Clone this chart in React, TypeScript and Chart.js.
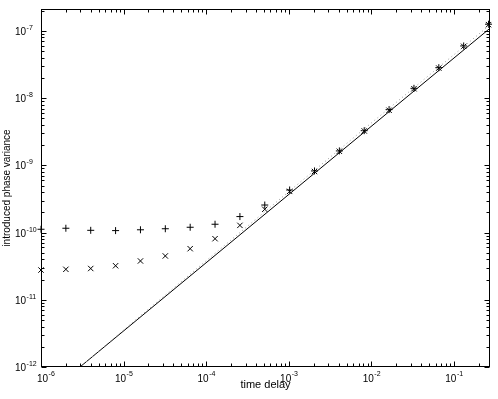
import React, { useEffect, useRef } from 'react';
import { Chart, registerables } from 'chart.js';

Chart.register(...registerables);

// time delays (x) of the measured points
const delays = [1e-6, 2e-6, 4e-6, 8e-6, 1.6e-5, 3.2e-5, 6.4e-5, 1.28e-4, 2.56e-4, 5.12e-4, 1.024e-3, 2.048e-3, 4.096e-3, 8.192e-3, 1.6384e-2, 3.2768e-2, 6.5536e-2, 1.31072e-1, 2.62144e-1];
// "+" series
const plusVar = [1.12e-10, 1.16e-10, 1.08e-10, 1.07e-10, 1.1e-10, 1.14e-10, 1.2e-10, 1.33e-10, 1.73e-10, 2.57e-10, 4.3e-10, 8.26e-10, 1.64e-9, 3.28e-9, 6.75e-9, 1.4e-8, 2.84e-8, 5.98e-8, 1.26e-7];
// "x" series
const crossVar = [2.77e-11, 2.84e-11, 2.92e-11, 3.21e-11, 3.78e-11, 4.49e-11, 5.76e-11, 8.11e-11, 1.28e-10, 2.22e-10, 4.1e-10, 8.1e-10, 1.62e-9, 3.25e-9, 6.6e-9, 1.38e-8, 2.8e-8, 5.9e-8, 1.24e-7];
// solid reference line
const solidX = [2.96e-6, 0.273];
const solidY = [1e-12, 1.096e-7];
// dotted reference line
const dottedX = [2.96e-6, 1e-5, 1e-4, 1e-3, 1e-2, 0.273];
const dottedY = [1e-12, 3.55e-12, 3.81e-11, 4.06e-10, 4.28e-9, 1.23e-7];

const xTickValues = [1e-6, 1e-5, 1e-4, 1e-3, 1e-2, 1e-1];
const xTickExps = ['-6', '-5', '-4', '-3', '-2', '-1'];
const yTickValues = [1e-12, 1e-11, 1e-10, 1e-9, 1e-8, 1e-7];
const yTickExps = ['-12', '-11', '-10', '-9', '-8', '-7'];

const X_MIN = 1e-6;
const X_MAX = 0.273;
const Y_MIN = 1e-12;
const Y_MAX = 2.12e-7;

const FONT = '"Liberation Sans", Arial, Helvetica, sans-serif';

const framePlugin = {
  id: 'matlabFrame',
  afterDatasetsDraw(chart: any) {
    const { ctx, chartArea: a, scales } = chart;
    const L = Math.round(a.left) + 0.5;
    const R = Math.round(a.right) - 0.5;
    const T = Math.round(a.top) + 0.5;
    const B = Math.round(a.bottom) - 0.5;
    ctx.save();
    ctx.strokeStyle = '#000';
    ctx.lineWidth = 1;
    ctx.beginPath();
    const logTicks = (min: number, max: number) => {
      const out: { v: number; major: boolean }[] = [];
      for (let e = Math.floor(Math.log10(min)); e <= Math.ceil(Math.log10(max)); e++) {
        for (let m = 1; m <= 9; m++) {
          const v = m * Math.pow(10, e);
          if (v >= min * 0.9999 && v <= max * 1.0001) out.push({ v, major: m === 1 });
        }
      }
      return out;
    };
    for (const t of logTicks(X_MIN, X_MAX)) {
      const p = Math.round(scales.x.getPixelForValue(t.v)) + 0.5;
      const len = t.major ? 5 : 3;
      ctx.moveTo(p, B);
      ctx.lineTo(p, B - len);
      ctx.moveTo(p, T);
      ctx.lineTo(p, T + len);
    }
    for (const t of logTicks(Y_MIN, Y_MAX)) {
      const p = Math.round(scales.y.getPixelForValue(t.v)) + 0.5;
      const len = t.major ? 5 : 3;
      ctx.moveTo(L, p);
      ctx.lineTo(L + len, p);
      ctx.moveTo(R, p);
      ctx.lineTo(R - len, p);
    }
    ctx.stroke();
    ctx.strokeRect(L, T, R - L, B - T);

    // tick labels: "10" with raised exponent
    ctx.fillStyle = '#000';
    ctx.textBaseline = 'alphabetic';
    const baseFont = `10px ${FONT}`;
    const expFont = `7px ${FONT}`;
    xTickValues.forEach((v, i) => {
      const px = scales.x.getPixelForValue(v);
      ctx.font = baseFont;
      const w1 = ctx.measureText('10').width;
      ctx.font = expFont;
      const w2 = ctx.measureText(xTickExps[i]).width;
      let x0 = px - (w1 + w2) / 2;
      if (i === 0) x0 = px - 4;
      ctx.font = baseFont;
      ctx.textAlign = 'left';
      ctx.fillText('10', x0, 382);
      ctx.font = expFont;
      ctx.fillText(xTickExps[i], x0 + w1 + 0.5, 376);
    });
    yTickValues.forEach((v, i) => {
      const py = scales.y.getPixelForValue(v);
      ctx.font = baseFont;
      ctx.textAlign = 'left';
      const w1 = ctx.measureText('10').width;
      ctx.fillText('10', 15, py + 4);
      ctx.font = expFont;
      ctx.fillText(yTickExps[i], 15 + w1 + 0.5, py - 1);
    });
    ctx.restore();
  },
};

export default function App() {
  const ref = useRef<HTMLCanvasElement | null>(null);

  useEffect(() => {
    if (!ref.current) return;
    const chart = new Chart(ref.current, {
      type: 'scatter',
      data: {
        datasets: [
          {
            label: 'dotted',
            type: 'line',
            data: dottedX.map((x, i) => ({ x, y: dottedY[i] })),
            borderColor: '#9a9a9a',
            borderWidth: 1,
            borderDash: [1, 3],
            pointRadius: 0,
            fill: false,
          },
          {
            label: 'solid',
            type: 'line',
            data: solidX.map((x, i) => ({ x, y: solidY[i] })),
            borderColor: '#000',
            borderWidth: 1,
            pointRadius: 0,
            fill: false,
          },
          {
            label: 'plus',
            data: delays.map((x, i) => ({ x, y: plusVar[i] })),
            pointStyle: 'cross',
            pointRadius: 3.5,
            borderColor: '#000',
            borderWidth: 1,
            clip: false,
          },
          {
            label: 'cross',
            data: delays.map((x, i) => ({ x, y: crossVar[i] })),
            pointStyle: 'crossRot',
            pointRadius: 3.8,
            borderColor: '#000',
            borderWidth: 1,
            clip: false,
          },
        ],
      } as any,
      options: {
        responsive: false,
        animation: false,
        layout: { padding: { top: 9, right: 8, left: 0, bottom: 0 } },
        plugins: { legend: { display: false }, tooltip: { enabled: false } },
        scales: {
          x: {
            type: 'logarithmic',
            min: X_MIN,
            max: X_MAX,
            grid: { display: false, drawTicks: false },
            border: { display: false },
            afterBuildTicks: (s: any) => {
              s.ticks = xTickValues.map((v) => ({ value: v }));
            },
            afterFit: (s: any) => {
              s.height = 32;
            },
            ticks: { display: false },
            title: {
              display: true,
              text: 'time delay',
              color: '#000',
              font: { family: FONT, size: 11 },
              padding: { top: 0, bottom: 7 },
            },
          },
          y: {
            type: 'logarithmic',
            min: Y_MIN,
            max: Y_MAX,
            grid: { display: false, drawTicks: false },
            border: { display: false },
            afterBuildTicks: (s: any) => {
              s.ticks = yTickValues.map((v) => ({ value: v }));
            },
            afterFit: (s: any) => {
              s.width = 41;
            },
            ticks: { display: false },
            title: {
              display: true,
              text: 'introduced phase variance',
              color: '#000',
              font: { family: FONT, size: 10 },
              padding: { top: 1, bottom: 0 },
            },
          },
        },
      } as any,
      plugins: [framePlugin],
    });
    return () => chart.destroy();
  }, []);

  return (
    <div style={{ position: 'absolute', left: 0, top: 0, width: 498, height: 399, background: '#fff' }}>
      <canvas ref={ref} width={498} height={399} style={{ display: 'block' }} />
    </div>
  );
}
